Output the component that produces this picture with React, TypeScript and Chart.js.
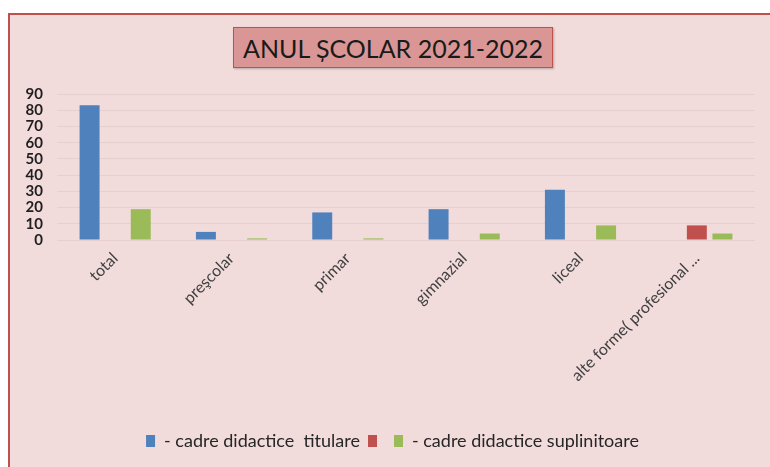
import React, { useEffect, useRef } from "react";
import { Chart, registerables } from "chart.js";

Chart.register(...registerables);

const categories = ["total", "preşcolar", "primar", "gimnazial", "liceal", "alte forme( profesional ..."];
const titulare = [83, 5, 17, 19, 31, null];
const seriaRosie = [null, null, null, null, null, 9];
const suplinitoare = [19, 1, 1, 4, 9, 4];
const seriesLabels = ["- cadre didactice  titulare", "", "- cadre didactice suplinitoare"];
const yStep = 10;

const legendShift = {
  id: "legendShift",
  afterLayout(chart: any) {
    if (chart.legend) {
      chart.legend.left += 15;
      chart.legend.right += 15;
    }
  },
};

export default function App() {
  const ref = useRef<HTMLCanvasElement | null>(null);

  useEffect(() => {
    document.body.style.margin = "0";
    document.body.style.overflow = "hidden";
    const ctx = ref.current;
    if (!ctx) return;
    const chart = new Chart(ctx, {
      type: "bar",
      data: {
        labels: categories,
        datasets: [
          { label: seriesLabels[0], data: titulare, backgroundColor: "#4f81bd" },
          { label: seriesLabels[1], data: seriaRosie, backgroundColor: "#c0504d" },
          { label: seriesLabels[2], data: suplinitoare, backgroundColor: "#9bbb59" },
        ],
      },
      plugins: [legendShift],
      options: {
        animation: false,
        responsive: false,
        maintainAspectRatio: false,
        datasets: { bar: { categoryPercentage: 0.66, barPercentage: 0.78 } },
        layout: { padding: { left: 0, top: 94, right: 15, bottom: 7 } },
        plugins: {
          title: { display: false },
          tooltip: { enabled: false },
          legend: {
            position: "bottom",
            labels: {
              boxWidth: 9,
              boxHeight: 12,
              padding: 8,
              color: "#262626",
              font: { family: "Lato", size: 18 },
            },
          },
        },
        scales: {
          x: {
            grid: { display: false, drawTicks: false },
            border: { display: false },
            ticks: {
              color: "#404040",
              font: { family: "Lato", size: 16 },
              minRotation: 45,
              maxRotation: 45,
              padding: 9,
              autoSkip: false,
            },
            afterFit: (s: any) => {
              s.height = 184;
            },
          },
          y: {
            min: 0,
            max: 90,
            grid: { color: "#e7cfce", drawTicks: false, lineWidth: 1 },
            border: { display: false },
            ticks: {
              stepSize: yStep,
              autoSkip: false,
              color: "#1f1f1f",
              font: { family: "Lato", size: 15, weight: "bold" },
              padding: 14,
            },
            afterFit: (s: any) => {
              s.width = 57;
            },
          },
        },
      },
    });
    return () => chart.destroy();
  }, []);

  return (
    <div style={{ position: "relative", width: 770, height: 467, background: "#ffffff", overflow: "hidden" }}>
      <div
        style={{
          position: "absolute",
          left: 8,
          top: 13,
          width: 800,
          height: 500,
          background: "#f2dcdb",
          border: "2px solid #c0504d",
          boxSizing: "border-box",
        }}
      />
      <div
        style={{
          position: "absolute",
          left: 233,
          top: 27,
          width: 320,
          height: 41,
          background: "#d99694",
          border: "1px solid #c0504d",
          boxSizing: "border-box",
          boxShadow: "1px 1px 2px rgba(0,0,0,0.25)",
          display: "flex",
          alignItems: "center",
          justifyContent: "center",
          fontFamily: "Lato",
          fontSize: 25,
          color: "#1a1a1a",
          whiteSpace: "nowrap",
        }}
      >
        ANUL ȘCOLAR 2021-2022
      </div>
      <canvas ref={ref} width={770} height={467} style={{ position: "absolute", left: 0, top: 0 }} />
    </div>
  );
}
